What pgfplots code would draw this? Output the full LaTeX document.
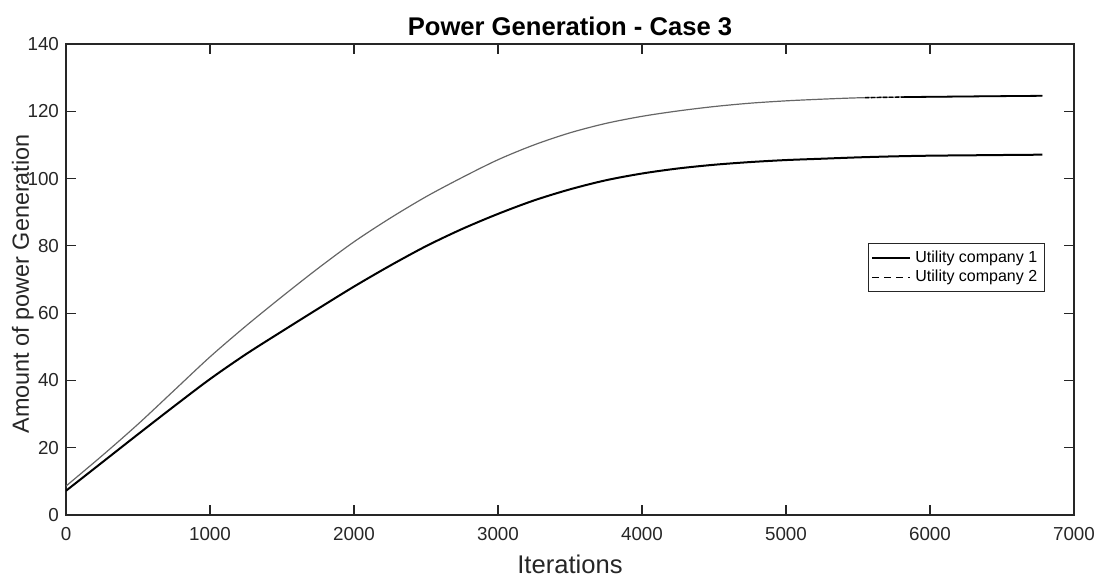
\documentclass[border=0pt]{standalone}
\usepackage{fontspec}
\setmainfont{Liberation Sans}
\usepackage{pgfplots}
\pgfplotsset{compat=1.18}
\usepackage{pgfplotstable}

% Iteration, company 1, company 2
\pgfplotstableread{
it    uc1    uc2
0     7.2    8.6
250   15.6   17.6
500   24.0   27.0
750   32.3   37.0
1000  40.4   47.0
1250  47.8   56.2
1500  54.6   64.9
1750  61.3   73.3
2000  67.9   81.2
2250  74.1   88.2
2500  79.9   94.6
2750  85.0   100.3
3000  89.5   105.6
3250  93.5   110.0
3500  96.8   113.6
3750  99.5   116.4
4000  101.5  118.5
4250  103.0  120.1
4500  104.1  121.4
4750  104.9  122.4
5000  105.5  123.1
5250  105.9  123.6
5500  106.3  124.0
5750  106.6  124.2
6000  106.8  124.3
6250  106.9  124.4
6500  107.0  124.5
6780  107.1  124.6
}\gen

% late iterations of company 2, where its dashes separate
\pgfplotstableread{
it    uc2
5550  124.05
5820  124.22
}\genlateA
\pgfplotstableread{
it    uc2
5820  124.22
6000  124.3
6250  124.4
6500  124.5
6780  124.6
}\genlateB

\definecolor{axcol}{HTML}{262626}

\begin{document}
\begin{tikzpicture}
\path[use as bounding box] (-33pt,-30.5pt) rectangle (517.5pt,257.5pt);
\begin{axis}[
  at={(0,0)}, anchor=south west,
  scale only axis,
  width=504pt, height=235.5pt,
  xmin=0, xmax=7000, ymin=0, ymax=140,
  xtick={0,1000,...,7000}, ytick={0,20,...,140},
  scaled x ticks=false,
  /pgf/number format/assume math mode=true,
  /pgf/number format/1000 sep={},
  tick align=inside, tick pos=both,
  major tick length=5pt,
  axis line style={axcol, line width=0.6pt},
  every tick/.style={axcol, line width=0.6pt},
  tick label style={font=\fontsize{9.4}{11}\selectfont, text=axcol},
  xticklabel style={yshift=-2.5pt},
  title={\bfseries Power Generation - Case 3},
  title style={font=\fontsize{12.8}{14}\selectfont, yshift=-5.5pt},
  xlabel={Iterations},
  ylabel={Amount of power Generation},
  label style={text=axcol},
  xlabel style={font=\fontsize{12.8}{14}\selectfont, yshift=-0.5pt},
  ylabel style={font=\fontsize{11.7}{13}\selectfont, yshift=-10pt, xshift=-2.2pt},
  legend style={at={(0.971,0.577)}, anchor=north east,
    font=\fontsize{8}{9.5}\selectfont, draw=axcol, line width=0.5pt,
    inner sep=1.5pt, row sep=-1.5pt},
  legend cell align=left,
  legend image code/.code={\draw[#1] (0pt,0pt) -- (19pt,0pt);},
]
\addplot[black, line width=1pt, smooth] table[x=it, y=uc1] {\gen};
\addlegendentry{Utility company 1}
\addplot[black!60, line width=0.6pt, smooth, forget plot]
  table[x=it, y=uc2] {\gen};
\addplot[black, line width=0.7pt, dash pattern=on 2pt off 1pt, forget plot]
  table[x=it, y=uc2] {\genlateA};
\addplot[black, line width=0.9pt, forget plot]
  table[x=it, y=uc2] {\genlateB};
\addlegendimage{black, line width=0.5pt, dash pattern=on 3.5pt off 2.5pt}
\addlegendentry{Utility company 2}
\end{axis}
\end{tikzpicture}
\end{document}
